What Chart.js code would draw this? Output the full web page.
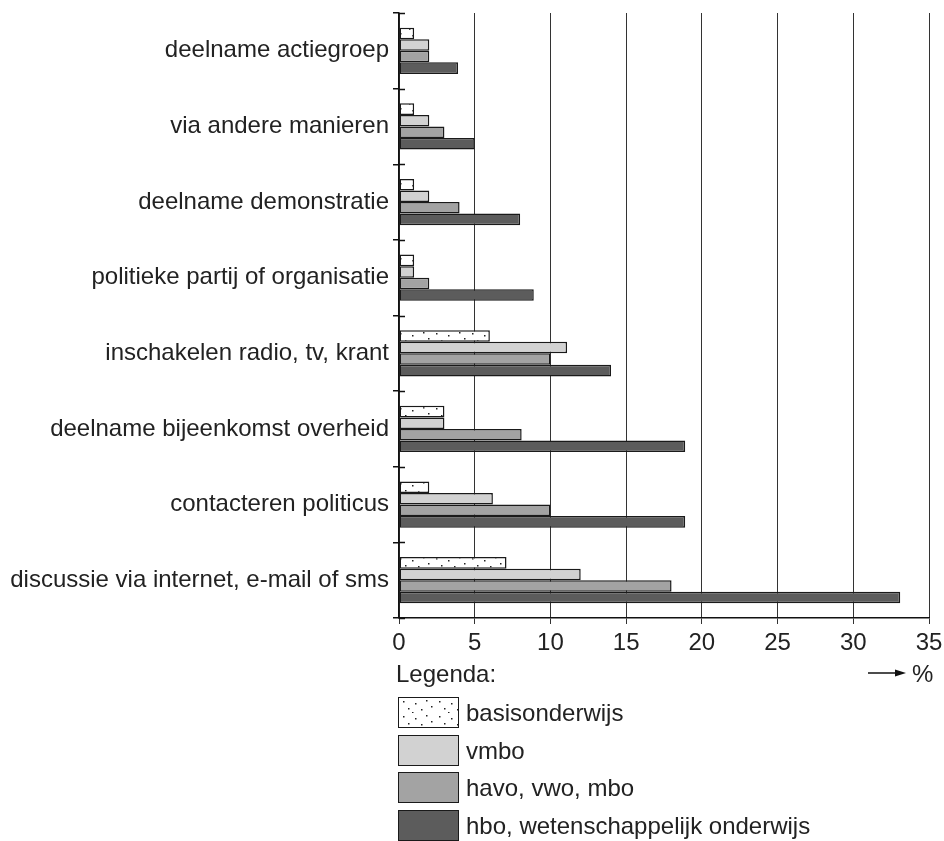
<!DOCTYPE html>
<html>
<head>
<meta charset="utf-8">
<script src="https://cdn.jsdelivr.net/npm/chart.js@4"></script>
<style>
  html, body { margin: 0; padding: 0; background: #fff; }
  #wrap { position: relative; width: 944px; height: 841px; overflow: hidden; }
  #chart { position: absolute; left: 0; top: 0; }
  .txt { position: absolute; font-family: "Liberation Sans", Arial, sans-serif; font-size: 24px; color: #222; line-height: 30px; white-space: nowrap; }
  .box { position: absolute; left: 398px; width: 61px; height: 31px; border: 1.5px solid #1a1a1a; box-sizing: border-box; }
  .lab { left: 466px; }
  #arrow { position: absolute; left: 866px; top: 667px; }
</style>
</head>
<body>
<div id="wrap">
  <canvas id="chart" width="944" height="841"></canvas>
  <div class="txt" style="left:396px; top:659px;">Legenda:</div>
  <svg id="arrow" width="44" height="12">
    <line x1="2" y1="6" x2="32" y2="6" stroke="#111" stroke-width="1.5"/>
    <polygon points="29,2.5 40,6 29,9.5" fill="#111"/>
  </svg>
  <div class="txt" style="left:912px; top:659px;">%</div>
  <div id="legend"></div>
</div>
<script>
// chart data
const categories = [
  "deelname actiegroep",
  "via andere manieren",
  "deelname demonstratie",
  "politieke partij of organisatie",
  "inschakelen radio, tv, krant",
  "deelname bijeenkomst overheid",
  "contacteren politicus",
  "discussie via internet, e-mail of sms",
];
const seriesNames = [
  "basisonderwijs",
  "vmbo",
  "havo, vwo, mbo",
  "hbo, wetenschappelijk onderwijs",
];
const basisonderwijs = [1, 1, 1, 1, 6, 3, 2, 7.1];
const vmbo = [2, 2, 2, 1, 11.1, 3, 6.2, 12];
const havoVwoMbo = [2, 3, 4, 2, 10, 8.1, 10, 18];
const hbo = [3.9, 5, 8, 8.9, 14, 18.9, 18.9, 33.1];
const xTicks = [0, 5, 10, 15, 20, 25, 30, 35];

const FONT = "'Liberation Sans', Arial, sans-serif";

// dotted fill for basisonderwijs
function makeDots() {
  const c = document.createElement("canvas");
  c.width = 36;
  c.height = 15;
  const g = c.getContext("2d");
  g.fillStyle = "#fff";
  g.fillRect(0, 0, 36, 15);
  g.fillStyle = "#222";
  [[4, 3], [16, 5], [27, 2], [9, 10], [22, 11], [32, 8], [13, 14]].forEach(([x, y]) => {
    g.fillRect(x, y, 1.5, 1.5);
  });
  return c;
}
const dotCanvas = makeDots();
const dotPattern = dotCanvas.getContext("2d").createPattern(dotCanvas, "repeat");

const fills = [dotPattern, "#d2d2d2", "#a3a3a3", "#5c5c5c"];
const cssFills = [
  `url(${dotCanvas.toDataURL()})`,
  "#d2d2d2",
  "#a3a3a3",
  "#5c5c5c",
];

// short inner half of the category ticks on the y axis
const innerTicks = {
  id: "innerTicks",
  afterDraw(chart) {
    const { ctx, chartArea } = chart;
    const n = categories.length;
    const step = (chartArea.bottom - chartArea.top) / n;
    ctx.save();
    ctx.strokeStyle = "#111";
    ctx.lineWidth = 1.5;
    ctx.beginPath();
    for (let i = 0; i <= n; i++) {
      const y = Math.round(chartArea.top + i * step) + 0.5;
      ctx.moveTo(chartArea.left, y);
      ctx.lineTo(chartArea.left + 6, y);
    }
    ctx.stroke();
    ctx.restore();
  },
};

new Chart(document.getElementById("chart"), {
  type: "bar",
  data: {
    labels: categories,
    datasets: [basisonderwijs, vmbo, havoVwoMbo, hbo].map((d, i) => ({
      label: seriesNames[i],
      data: d,
      backgroundColor: fills[i],
      borderColor: "#1a1a1a",
      borderWidth: 1.5,
      borderSkipped: false,
      barPercentage: 1,
      categoryPercentage: 0.61,
    })),
  },
  options: {
    indexAxis: "y",
    responsive: false,
    animation: false,
    devicePixelRatio: 1,
    layout: { padding: { top: 13, right: 15, left: 0, bottom: 0 } },
    plugins: { legend: { display: false }, tooltip: { enabled: false } },
    scales: {
      x: {
        min: 0,
        max: 35,
        afterBuildTicks: (s) => {
          s.ticks = xTicks.map((v) => ({ value: v }));
        },
        afterFit: (s) => {
          s.height = 223;
          s.paddingLeft = 0;
          s.paddingRight = 0;
        },
        ticks: {
          font: { family: FONT, size: 24 },
          color: "#222",
          padding: 5,
          maxRotation: 0,
        },
        grid: { color: "#333", lineWidth: 1, tickLength: 6 },
        border: { color: "#111", width: 1.5 },
      },
      y: {
        afterFit: (s) => {
          s.width = 399;
          s.paddingTop = 0;
          s.paddingBottom = 0;
        },
        ticks: {
          font: { family: FONT, size: 24 },
          color: "#222",
          padding: 4,
        },
        grid: {
          offset: true,
          drawOnChartArea: false,
          color: "#111",
          lineWidth: 1.5,
          tickLength: 6,
        },
        border: { color: "#111", width: 1.5 },
      },
    },
  },
  plugins: [innerTicks],
});

// legend list below the axis
const legend = document.getElementById("legend");
const tops = [697, 735, 772, 810];
seriesNames.forEach((name, i) => {
  const b = document.createElement("div");
  b.className = "box";
  b.style.top = tops[i] + "px";
  b.style.background = cssFills[i];
  legend.appendChild(b);
  const t = document.createElement("div");
  t.className = "txt lab";
  t.style.top = tops[i] + 1 + "px";
  t.textContent = name;
  legend.appendChild(t);
});
</script>
</body>
</html>
